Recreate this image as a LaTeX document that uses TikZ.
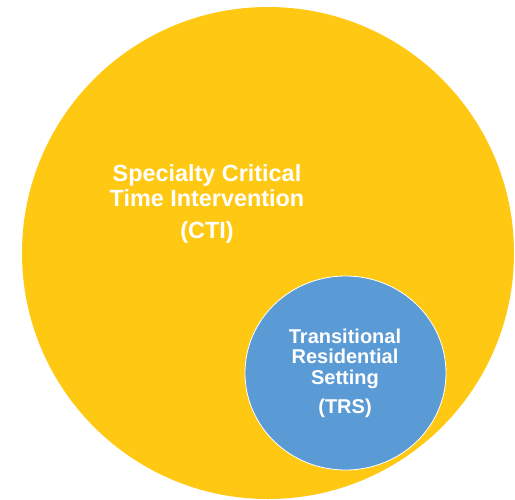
\documentclass[tikz,border=0pt]{standalone}
\usepackage{fontspec}
\setmainfont{Liberation Sans}
\usetikzlibrary{shapes}

\definecolor{ctiyellow}{RGB}{255,200,19}
\definecolor{trsblue}{RGB}{91,155,213}

\begin{document}
\begin{tikzpicture}[x=1pt,y=-1pt]
		\tikzset{circle label/.style={text=white,align=center,inner sep=0pt}}
		\useasboundingbox (0,0) rectangle (515,499);
		% outer and inner circle
		\node[circle,fill=ctiyellow,minimum size=492pt,inner sep=0pt] (cti) at (268,253) {};
		\node[ellipse,fill=trsblue,draw=white,line width=0.8pt,minimum width=201pt,minimum height=194pt,inner sep=0pt] (trs) at (345.5,373) {};
		%\node[circle,fill=trsblue,minimum size=198pt] (trs) at (345.5,373) {};
		\node[circle label,font=\bfseries\fontsize{23.4}{25}\selectfont] (ctitext) at (207,204) {Specialty Critical\\Time Intervention\\[7pt](CTI)};
		\node[circle label,font=\bfseries\fontsize{20}{20.5}\selectfont] (trstext) at (345,373) {Transitional\\Residential\\Setting\\[8.5pt](TRS)};
	\end{tikzpicture}
\end{document}
